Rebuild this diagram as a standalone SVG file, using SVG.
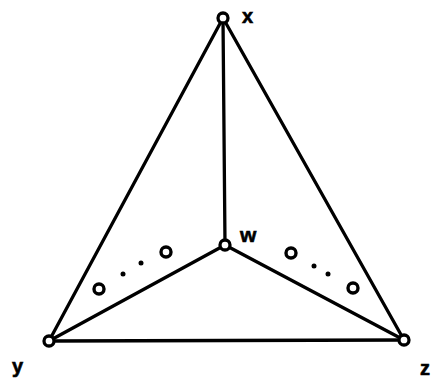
<svg xmlns="http://www.w3.org/2000/svg" width="433" height="378" viewBox="0 0 433 378">
<style>
.e{stroke:#000;stroke-width:3.3;fill:none;stroke-linecap:round}
.n{fill:#fff;stroke:#000;stroke-width:3.3}
.s{fill:#fff;stroke:#000;stroke-width:3.4}
.d{fill:#000}
.t{font-family:"Liberation Sans",Arial,sans-serif;font-weight:bold;font-size:20px;fill:#000;stroke:#000;stroke-width:0.6}
</style>
<rect width="433" height="378" fill="#fff"/>
<g id="connectors">
<line class="e" x1="223" y1="18" x2="49" y2="341"/>
<line class="e" x1="223" y1="18" x2="404" y2="340"/>
<line class="e" x1="223" y1="18" x2="225" y2="245"/>
<line class="e" x1="225" y1="245" x2="49" y2="341"/>
<line class="e" x1="225" y1="245" x2="404" y2="340"/>
<line class="e" x1="49" y1="341" x2="404" y2="340"/>
</g>
<g id="node-x"><circle class="n" cx="223" cy="18" r="5"/><text class="t" x="242" y="23">x</text></g>
<g id="node-w"><circle class="n" cx="225" cy="245" r="5"/><text class="t" x="240" y="242" style="font-size:21px">w</text></g>
<g id="node-y"><circle class="n" cx="49" cy="341" r="5"/><text class="t" x="12" y="373">y</text></g>
<g id="node-z"><circle class="n" cx="404" cy="340" r="5"/><text class="t" x="420" y="375">z</text></g>
<g id="left-path">
<circle class="s" cx="99" cy="289" r="5"/>
<circle class="d" cx="123" cy="274" r="2.5"/>
<circle class="d" cx="141" cy="263" r="2.5"/>
<circle class="s" cx="166" cy="252" r="5"/>
</g>
<g id="right-path">
<circle class="s" cx="291" cy="253" r="5"/>
<circle class="d" cx="314" cy="266" r="2.5"/>
<circle class="d" cx="328" cy="274" r="2.5"/>
<circle class="s" cx="353" cy="288" r="5"/>
</g>
</svg>
